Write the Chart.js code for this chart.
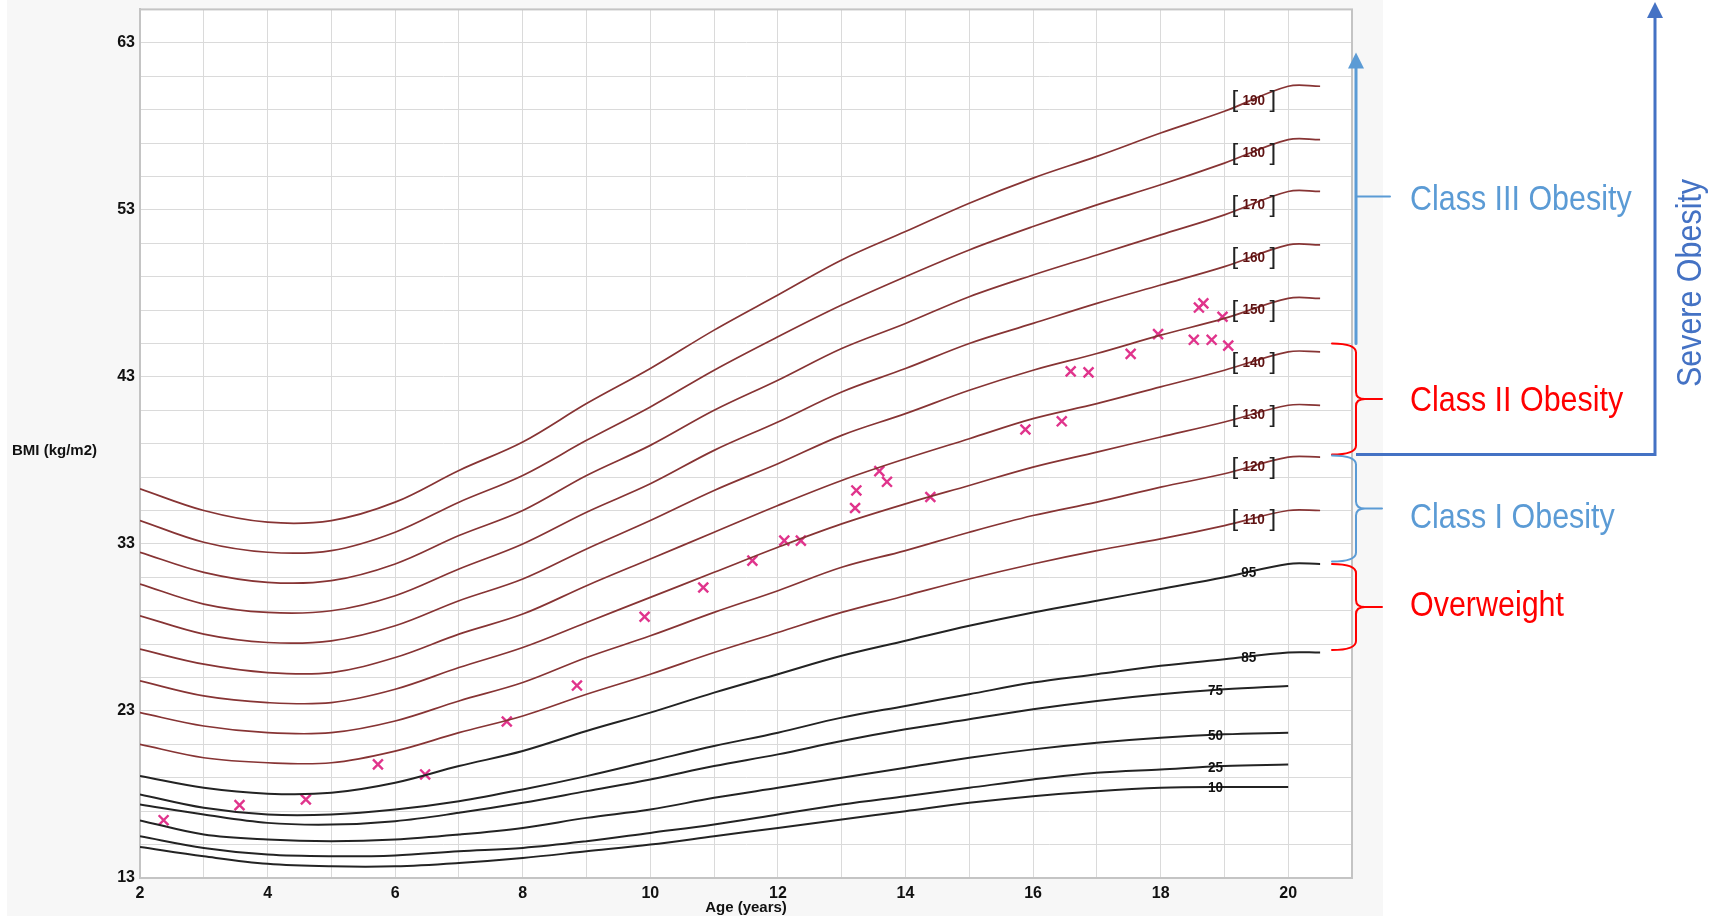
<!DOCTYPE html>
<html>
<head>
<meta charset="utf-8">
<script src="https://cdn.jsdelivr.net/npm/chart.js@4.4.1/dist/chart.umd.min.js"></script>
<style>
  html, body { margin: 0; padding: 0; background: #fff; }
</style>
</head>
<body>
<canvas id="chart" width="1721" height="916"></canvas>
<script>
// ages (years) for the reference curves
const ages = [2, 3, 4, 5, 6, 7, 8, 9, 10, 11, 12, 13, 14, 15, 16, 17, 18, 19, 20]
const agesLong = [2, 3, 4, 5, 6, 7, 8, 9, 10, 11, 12, 13, 14, 15, 16, 17, 18, 19, 20, 20.5]

// percentile curves, BMI
const p10 = [14.85, 14.3, 13.85, 13.7, 13.7, 13.9, 14.2, 14.6, 15.0, 15.5, 16.0, 16.5, 17.0, 17.5, 17.9, 18.2, 18.4, 18.45, 18.45]
const p25 = [15.5, 14.8, 14.4, 14.3, 14.35, 14.6, 14.8, 15.2, 15.7, 16.2, 16.8, 17.4, 17.9, 18.4, 18.9, 19.3, 19.5, 19.7, 19.8]
const p50 = [16.45, 15.6, 15.3, 15.2, 15.3, 15.6, 16.0, 16.6, 17.1, 17.8, 18.4, 19.0, 19.6, 20.2, 20.7, 21.1, 21.4, 21.6, 21.7]
const p75 = [17.4, 16.8, 16.3, 16.2, 16.4, 16.9, 17.5, 18.2, 18.9, 19.7, 20.4, 21.2, 21.9, 22.5, 23.1, 23.6, 24.0, 24.3, 24.5]
const p85 = [18.0, 17.2, 16.8, 16.8, 17.1, 17.6, 18.3, 19.1, 20.0, 20.9, 21.7, 22.6, 23.3, 24.0, 24.7, 25.2, 25.7, 26.1, 26.5, 26.5]
const p95 = [19.1, 18.4, 18.05, 18.1, 18.7, 19.7, 20.6, 21.8, 22.9, 24.1, 25.2, 26.3, 27.2, 28.1, 28.9, 29.6, 30.3, 31.0, 31.8, 31.8]

// percent-of-95th curves
const pct110 = [21.0, 20.2, 19.9, 19.9, 20.6, 21.7, 22.7, 24.0, 25.2, 26.5, 27.7, 28.9, 29.9, 30.9, 31.8, 32.6, 33.3, 34.1, 35.0, 35.0]
const pct120 = [22.9, 22.1, 21.7, 21.7, 22.4, 23.6, 24.7, 26.2, 27.5, 28.9, 30.2, 31.6, 32.6, 33.7, 34.7, 35.5, 36.4, 37.2, 38.2, 38.2]
const pct130 = [24.8, 23.9, 23.5, 23.5, 24.3, 25.6, 26.8, 28.3, 29.8, 31.3, 32.8, 34.2, 35.4, 36.5, 37.6, 38.5, 39.4, 40.3, 41.3, 41.3]
const pct140 = [26.7, 25.8, 25.3, 25.3, 26.2, 27.6, 28.8, 30.5, 32.1, 33.7, 35.3, 36.8, 38.1, 39.3, 40.5, 41.4, 42.4, 43.4, 44.5, 44.5]
const pct150 = [28.7, 27.6, 27.1, 27.2, 28.1, 29.6, 30.9, 32.7, 34.4, 36.2, 37.8, 39.5, 40.8, 42.2, 43.4, 44.4, 45.5, 46.5, 47.7, 47.7]
const pct160 = [30.6, 29.4, 28.9, 29.0, 29.9, 31.5, 33.0, 34.9, 36.6, 38.6, 40.3, 42.1, 43.5, 45.0, 46.2, 47.4, 48.5, 49.6, 50.9, 50.9]
const pct170 = [32.5, 31.3, 30.7, 30.8, 31.8, 33.5, 35.0, 37.1, 38.9, 41.0, 42.8, 44.7, 46.2, 47.8, 49.1, 50.3, 51.5, 52.7, 54.1, 54.1]
const pct180 = [34.4, 33.1, 32.5, 32.6, 33.7, 35.5, 37.1, 39.2, 41.2, 43.4, 45.4, 47.3, 49.0, 50.6, 52.0, 53.3, 54.5, 55.8, 57.2, 57.2]
const pct190 = [36.3, 35.0, 34.3, 34.4, 35.5, 37.4, 39.1, 41.4, 43.5, 45.8, 47.9, 50.0, 51.7, 53.4, 54.9, 56.2, 57.6, 58.9, 60.4, 60.4]

// patient measurements
const visitAges = [2.37, 3.56, 4.6, 5.73, 6.47, 7.75, 8.85, 9.91, 10.83, 11.6, 12.1, 12.36, 13.21, 13.23, 13.59, 13.71, 14.39, 15.88, 16.45, 16.59, 16.87, 17.53, 17.96, 18.52, 18.6, 18.67, 18.8, 18.97, 19.06]
const visitBmi = [16.46, 17.36, 17.7, 19.8, 19.2, 22.37, 24.52, 28.64, 30.39, 32.0, 33.2, 33.2, 35.15, 36.2, 37.36, 36.72, 35.81, 39.85, 40.34, 43.33, 43.27, 44.38, 45.56, 45.22, 47.15, 47.4, 45.22, 46.6, 44.87]

// category brackets on the right, BMI bounds and where the caption sits
const bandNames = ['Class II Obesity', 'Class I Obesity', 'Overweight']
const bandTop = [45.0, 38.3, 31.8]
const bandBottom = [38.35, 31.95, 26.65]
const bandCaption = [41.55, 34.53, 29.28]
const bandColors = ['#ff0000', '#5b9bd5', '#ff0000']
const classThreeCaption = 53.58

const BLACK = '#232323'
const DARKRED = '#873434'
const FONT = 'Liberation Sans, Arial, sans-serif'

const curves = [
    {label: '10', ys: p10, xs: ages, color: BLACK, at: 18.86},
    {label: '25', ys: p25, xs: ages, color: BLACK, at: 18.86},
    {label: '50', ys: p50, xs: ages, color: BLACK, at: 18.86},
    {label: '75', ys: p75, xs: ages, color: BLACK, at: 18.86},
    {label: '85', ys: p85, xs: agesLong, color: BLACK, at: 19.38},
    {label: '95', ys: p95, xs: agesLong, color: BLACK, at: 19.38},
    {label: '110', ys: pct110, xs: agesLong, color: DARKRED, at: 19.46, bracket: true},
    {label: '120', ys: pct120, xs: agesLong, color: DARKRED, at: 19.46, bracket: true},
    {label: '130', ys: pct130, xs: agesLong, color: DARKRED, at: 19.46, bracket: true},
    {label: '140', ys: pct140, xs: agesLong, color: DARKRED, at: 19.46, bracket: true},
    {label: '150', ys: pct150, xs: agesLong, color: DARKRED, at: 19.46, bracket: true},
    {label: '160', ys: pct160, xs: agesLong, color: DARKRED, at: 19.46, bracket: true},
    {label: '170', ys: pct170, xs: agesLong, color: DARKRED, at: 19.46, bracket: true},
    {label: '180', ys: pct180, xs: agesLong, color: DARKRED, at: 19.46, bracket: true},
    {label: '190', ys: pct190, xs: agesLong, color: DARKRED, at: 19.46, bracket: true},
]

function interpolate(xs, ys, a) {
    for (let i = 0; i < xs.length - 1; i++) {
        if (a >= xs[i] && a <= xs[i + 1]) {
            const t = (a - xs[i]) / (xs[i + 1] - xs[i])
            return ys[i] + t * (ys[i + 1] - ys[i])
        }
    }
    return ys[ys.length - 1]
}

function narrowText(ctx, text, x, y, sx, angle) {
    ctx.save()
    ctx.translate(x, y)
    if (angle) ctx.rotate(angle)
    ctx.scale(sx, 1)
    ctx.fillText(text, 0, 0)
    ctx.restore()
}

const backdrop = {
    id: 'backdrop',
    beforeDraw(chart) {
        const {ctx, chartArea: a} = chart
        ctx.save()
        ctx.fillStyle = '#ffffff'
        ctx.fillRect(0, 0, chart.width, chart.height)
        ctx.fillStyle = '#f7f7f7'
        ctx.fillRect(7, 0, a.right + 31 - 7, chart.height)
        ctx.fillStyle = '#ffffff'
        ctx.fillRect(a.left, a.top, a.right - a.left, a.bottom - a.top)
        ctx.restore()
    },
    beforeDatasetsDraw(chart) {
        const {ctx, chartArea: a} = chart
        ctx.save()
        ctx.strokeStyle = '#c4c4c4'
        ctx.lineWidth = 2
        ctx.strokeRect(a.left, a.top, a.right - a.left, a.bottom - a.top)
        ctx.restore()
    }
}

const curveLabels = {
    id: 'curveLabels',
    afterDatasetsDraw(chart) {
        const {ctx, scales: {x, y}} = chart
        ctx.save()
        ctx.textAlign = 'center'
        ctx.textBaseline = 'middle'
        curves.forEach(c => {
            const px = x.getPixelForValue(c.at)
            const py = y.getPixelForValue(interpolate(c.xs, c.ys, c.at))
            ctx.fillStyle = c.bracket ? '#5e1212' : '#111'
            ctx.font = `bold 15px ${FONT}`
            narrowText(ctx, c.label, px, py + 1, 0.9)
            if (c.bracket) {
                ctx.fillStyle = '#222'
                ctx.font = `24px ${FONT}`
                ctx.fillText('[', px - 19, py + 1)
                ctx.fillText(']', px + 19, py + 1)
            }
        })
        ctx.restore()
    }
}

function brace(ctx, x0, xm, xt, yt, yb) {
    const ymid = (yt + yb) / 2
    ctx.beginPath()
    ctx.moveTo(x0, yt)
    ctx.quadraticCurveTo(xm, yt, xm, yt + 9)
    ctx.lineTo(xm, ymid - 7)
    ctx.quadraticCurveTo(xm, ymid, xm + 9, ymid)
    ctx.lineTo(xt, ymid)
    ctx.moveTo(xm + 9, ymid)
    ctx.quadraticCurveTo(xm, ymid, xm, ymid + 7)
    ctx.lineTo(xm, yb - 9)
    ctx.quadraticCurveTo(xm, yb, x0, yb)
    ctx.stroke()
}

function arrowHead(ctx, x, tipY) {
    ctx.beginPath()
    ctx.moveTo(x, tipY)
    ctx.lineTo(x - 8, tipY + 16)
    ctx.lineTo(x + 8, tipY + 16)
    ctx.closePath()
    ctx.fill()
}

const annotations = {
    id: 'annotations',
    afterDraw(chart) {
        const {ctx, chartArea: a, scales: {y}} = chart
        const x0 = a.right - 20
        const xm = a.right + 4
        const xt = a.right + 30
        const textX = a.right + 58
        ctx.save()
        ctx.lineCap = 'round'

        // light blue arrow: class III
        const lb = '#5b9bd5'
        const c2Top = y.getPixelForValue(bandTop[0])
        ctx.strokeStyle = lb
        ctx.fillStyle = lb
        ctx.lineWidth = 3
        ctx.beginPath()
        ctx.moveTo(xm, c2Top)
        ctx.lineTo(xm, a.top + 58)
        ctx.stroke()
        arrowHead(ctx, xm, a.top + 43)
        const c3y = a.top + 187
        ctx.lineWidth = 2
        ctx.beginPath()
        ctx.moveTo(xm, c3y)
        ctx.lineTo(xm + 34, c3y)
        ctx.stroke()

        // dark blue arrow: severe obesity
        const db = '#4472c4'
        const sevY = y.getPixelForValue(bandBottom[0])
        const sevX = a.right + 303
        ctx.strokeStyle = db
        ctx.fillStyle = db
        ctx.lineWidth = 3
        ctx.lineCap = 'butt'
        ctx.beginPath()
        ctx.moveTo(xm, sevY)
        ctx.lineTo(sevX, sevY)
        ctx.lineTo(sevX, 16)
        ctx.stroke()
        arrowHead(ctx, sevX, 2)

        // brackets
        ctx.lineWidth = 2
        ctx.lineCap = 'round'
        bandNames.forEach((name, i) => {
            const yt = y.getPixelForValue(bandTop[i])
            const yb = y.getPixelForValue(bandBottom[i])
            ctx.strokeStyle = bandColors[i]
            brace(ctx, x0, xm, xt, yt, yb)
        })

        // category texts
        ctx.font = `35px ${FONT}`
        ctx.textAlign = 'left'
        ctx.textBaseline = 'middle'
        ctx.fillStyle = lb
        narrowText(ctx, 'Class III Obesity', textX, y.getPixelForValue(classThreeCaption), 0.87)
        bandNames.forEach((name, i) => {
            ctx.fillStyle = bandColors[i]
            narrowText(ctx, name, textX, y.getPixelForValue(bandCaption[i]), 0.87)
        })
        ctx.fillStyle = db
        ctx.textAlign = 'center'
        narrowText(ctx, 'Severe Obesity', a.right + 339, 283, 0.87, -Math.PI / 2)

        // axis titles
        ctx.fillStyle = '#111'
        ctx.font = `bold 15px ${FONT}`
        ctx.textAlign = 'left'
        ctx.fillText('BMI (kg/m2)', 12, 451)
        ctx.textAlign = 'center'
        ctx.fillText('Age (years)', (a.left + a.right) / 2, 908)
        ctx.restore()
    }
}

function instantiateChart() {
    const ctx = document.getElementById('chart').getContext('2d')

    const datasets = curves.map(c => ({
        label: c.label,
        data: c.xs.map((a, i) => ({x: a, y: c.ys[i]})),
        borderColor: c.color,
        borderWidth: c.bracket ? 1.7 : 2,
        pointRadius: 0,
        fill: false,
        tension: 0.35,
        showLine: true,
    }))

    datasets.push({
        label: 'BMI',
        data: visitAges.map((a, i) => ({x: a, y: visitBmi[i]})),
        showLine: false,
        pointStyle: 'crossRot',
        pointRadius: 7,
        pointBorderWidth: 2.4,
        borderColor: '#e0348c',
        backgroundColor: '#e0348c',
    })

    new Chart(ctx, {
        type: 'scatter',
        data: {datasets},
        options: {
            responsive: false,
            animation: false,
            events: [],
            layout: {padding: {left: 0, right: 369, top: 0, bottom: 0}},
            plugins: {legend: {display: false}, tooltip: {enabled: false}},
            scales: {
                x: {
                    type: 'linear',
                    min: 2,
                    max: 21,
                    afterFit: s => { s.height = 38 },
                    grid: {color: '#dadada', lineWidth: 1, drawTicks: false},
                    border: {color: '#c4c4c4', width: 2},
                    ticks: {
                        stepSize: 1,
                        autoSkip: false,
                        maxRotation: 0,
                        padding: 6,
                        color: '#111',
                        font: {family: FONT, weight: 'bold', size: 16},
                        callback: v => (v % 2 === 0 && v <= 20 ? v : ''),
                    },
                },
                y: {
                    min: 13,
                    max: 65,
                    afterFit: s => {
                        s.width = 140
                        s.paddingTop = 7
                        s.paddingBottom = 0
                    },
                    grid: {color: '#dadada', lineWidth: 1, drawTicks: false},
                    border: {color: '#c4c4c4', width: 2},
                    ticks: {
                        stepSize: 2,
                        autoSkip: false,
                        padding: 5,
                        color: '#111',
                        font: {family: FONT, weight: 'bold', size: 16},
                        callback: v => ((v - 13) % 10 === 0 ? v : ''),
                    },
                },
            },
        },
        plugins: [backdrop, curveLabels, annotations],
    })
}

instantiateChart()
</script>
</body>
</html>
